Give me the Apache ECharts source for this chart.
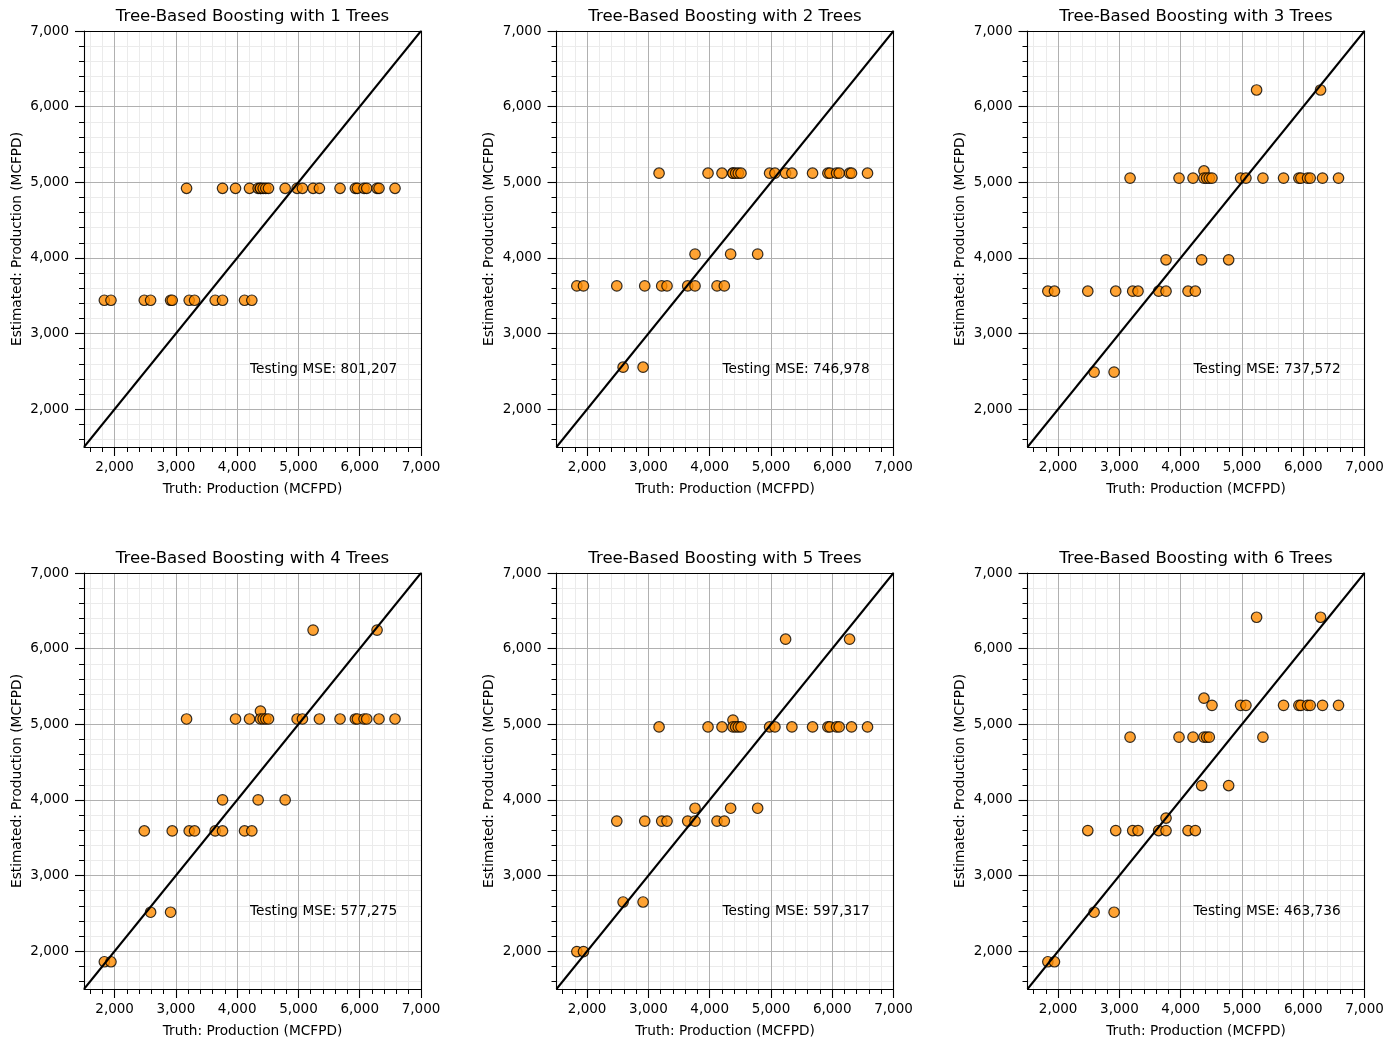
<!DOCTYPE html>
<html>
<head>
<meta charset="utf-8">
<script src="https://cdn.jsdelivr.net/npm/echarts@6/dist/echarts.min.js"></script>
<style>
html,body{margin:0;padding:0;background:#fff;}
#chart{width:1393px;height:1048px;}
</style>
</head>
<body>
<div id="chart"></div>
<script>
// ---------- data ----------
const titles = [
  'Tree-Based Boosting with 1 Trees',
  'Tree-Based Boosting with 2 Trees',
  'Tree-Based Boosting with 3 Trees',
  'Tree-Based Boosting with 4 Trees',
  'Tree-Based Boosting with 5 Trees',
  'Tree-Based Boosting with 6 Trees'
];
const mse = [801207, 746978, 737572, 577275, 597317, 463736];

const truth = [1832, 1940, 2484, 2587, 2913, 2940, 3174, 3217, 3304, 3641, 3761, 3761, 3973, 4120, 4201, 4239, 4342, 4380, 4380, 4424, 4467, 4511, 4783, 4978, 5065, 5239, 5342, 5679, 5929, 5962, 6071, 6114, 6283, 6315, 6576];

const est1 = [3440, 3440, 3440, 3440, 3440, 3440, 4920, 3440, 3440, 3440, 4920, 3440, 4920, 3440, 4920, 3440, 4920, 4920, 4920, 4920, 4920, 4920, 4920, 4920, 4920, 4920, 4920, 4920, 4920, 4920, 4920, 4920, 4920, 4920, 4920];
const est2 = [3630, 3630, 3630, 2555, 2555, 3630, 5120, 3630, 3630, 3630, 4050, 3630, 5120, 3630, 5120, 3630, 4050, 5120, 5120, 5120, 5120, 5120, 4050, 5120, 5120, 5120, 5120, 5120, 5120, 5120, 5120, 5120, 5120, 5120, 5120];
const est3 = [3560, 3560, 3560, 2490, 2490, 3560, 5055, 3560, 3560, 3560, 3975, 3560, 5055, 3560, 5055, 3560, 3975, 5150, 5055, 5055, 5055, 5055, 3975, 5055, 5055, 6220, 5055, 5055, 5055, 5055, 5055, 5055, 6220, 5055, 5055];
const est4 = [1860, 1860, 3590, 2515, 2515, 3590, 5070, 3590, 3590, 3590, 4000, 3590, 5070, 3590, 5070, 3590, 4000, 5175, 5070, 5070, 5070, 5070, 4000, 5070, 5070, 6245, 5070, 5070, 5070, 5070, 5070, 5070, 6245, 5070, 5070];
const est5 = [1995, 1995, 3720, 2650, 2650, 3720, 4965, 3720, 3720, 3720, 3890, 3720, 4965, 3720, 4965, 3720, 3890, 5055, 4965, 4965, 4965, 4965, 3890, 4965, 4965, 6125, 4965, 4965, 4965, 4965, 4965, 4965, 6125, 4965, 4965];
const est6 = [1860, 1860, 3595, 2515, 2515, 3595, 4830, 3595, 3595, 3595, 3760, 3595, 4830, 3595, 4830, 3595, 4190, 5345, 4830, 4830, 4830, 5250, 4190, 5250, 5250, 6415, 4830, 5250, 5250, 5250, 5250, 5250, 6415, 5250, 5250];
const estimates = [est1, est2, est3, est4, est5, est6];

const axisMin = 1500, axisMax = 7000;
const majorTicks = [2000, 3000, 4000, 5000, 6000, 7000];
const minorTicks = [1600, 1800, 2200, 2400, 2600, 2800, 3200, 3400, 3600, 3800, 4200, 4400, 4600, 4800, 5200, 5400, 5600, 5800, 6200, 6400, 6600, 6800];
const diagonal = [[1500, 1500], [7000, 7000]];
const xName = 'Truth: Production (MCFPD)';
const yName = 'Estimated: Production (MCFPD)';

// ---------- layout ----------
const FONT = 'DejaVu Sans';
const gridLefts = [84, 556.5, 1027.5];
const gridTops = [31, 573];
const GW = 337, GH = 416;
const mseAt = [4200, 2530];

const fmt = v => String(Math.round(v)).replace(/\B(?=(\d{3})+(?!\d))/g, ',');

const grids = [], xAxes = [], yAxes = [], series = [], graphics = [];

for (let g = 0; g < 6; g++) {
  const col = g % 3, row = Math.floor(g / 3);
  const left = gridLefts[col], top = gridTops[row];
  grids.push({left: left, top: top, width: GW, height: GH, containLabel: false});

  // major x
  xAxes.push({
    gridIndex: g, type: 'value', min: axisMin, max: axisMax, position: 'bottom', z: 1,
    name: xName, nameLocation: 'middle', nameGap: 35,
    nameTextStyle: {fontFamily: FONT, fontSize: 13.7, color: '#000'},
    axisLine: {show: true, onZero: false, lineStyle: {color: '#000', width: 1.1}},
    axisTick: {show: true, customValues: majorTicks, length: 9, lineStyle: {color: '#000', width: 1.1}},
    axisLabel: {show: true, customValues: majorTicks, formatter: v => fmt(v), fontFamily: FONT, fontSize: 13.5, color: '#000', margin: 13},
    splitLine: {show: true, lineStyle: {color: '#b0b0b0', width: 1}}
  });
  // minor x
  xAxes.push({
    gridIndex: g, type: 'value', min: axisMin, max: axisMax, position: 'bottom', z: 0,
    axisLine: {show: false, onZero: false},
    axisTick: {show: true, customValues: minorTicks, length: 5, lineStyle: {color: '#000', width: 1}},
    axisLabel: {show: false},
    splitLine: {show: true, lineStyle: {color: '#ebebeb', width: 1}}
  });
  // top border
  xAxes.push({
    gridIndex: g, type: 'value', min: axisMin, max: axisMax, position: 'top', z: 2,
    axisLine: {show: true, onZero: false, lineStyle: {color: '#000', width: 1.1}},
    axisTick: {show: false}, axisLabel: {show: false}, splitLine: {show: false}
  });

  // major y
  yAxes.push({
    gridIndex: g, type: 'value', min: axisMin, max: axisMax, position: 'left', z: 1,
    name: yName, nameLocation: 'middle', nameGap: 60, nameRotate: 90,
    nameTextStyle: {fontFamily: FONT, fontSize: 13.7, color: '#000'},
    axisLine: {show: true, onZero: false, lineStyle: {color: '#000', width: 1.1}},
    axisTick: {show: true, customValues: majorTicks, length: 9, lineStyle: {color: '#000', width: 1.1}},
    axisLabel: {show: true, customValues: majorTicks, formatter: v => fmt(v), fontFamily: FONT, fontSize: 13.5, color: '#000', margin: 15},
    splitLine: {show: true, lineStyle: {color: '#b0b0b0', width: 1}}
  });
  // minor y
  yAxes.push({
    gridIndex: g, type: 'value', min: axisMin, max: axisMax, position: 'left', z: 0,
    axisLine: {show: false, onZero: false},
    axisTick: {show: true, customValues: minorTicks, length: 5, lineStyle: {color: '#000', width: 1}},
    axisLabel: {show: false},
    splitLine: {show: true, lineStyle: {color: '#ebebeb', width: 1}}
  });
  // right border
  yAxes.push({
    gridIndex: g, type: 'value', min: axisMin, max: axisMax, position: 'right', z: 2,
    axisLine: {show: true, onZero: false, lineStyle: {color: '#000', width: 1.1}},
    axisTick: {show: false}, axisLabel: {show: false}, splitLine: {show: false}
  });

  const xi = 3 * g, yi = 3 * g;
  const est = estimates[g];
  series.push({
    type: 'scatter', xAxisIndex: xi, yAxisIndex: yi, z: 3,
    data: truth.map((t, i) => [t, est[i]]),
    symbol: 'circle', symbolSize: 10.5,
    itemStyle: {color: '#ff8c00', opacity: 0.8, borderColor: '#000', borderWidth: 1.2}
  });
  series.push({
    type: 'line', xAxisIndex: xi, yAxisIndex: yi, z: 4,
    data: diagonal, symbol: 'none', showSymbol: false,
    lineStyle: {color: '#000', width: 2}
  });
  series.push({
    type: 'scatter', xAxisIndex: xi, yAxisIndex: yi, z: 5,
    data: [mseAt], symbolSize: 1, itemStyle: {color: 'rgba(0,0,0,0)'},
    label: {show: true, position: 'right', distance: 0, formatter: 'Testing MSE: ' + fmt(mse[g]),
      fontFamily: FONT, fontSize: 13.7, color: '#000', opacity: 1}
  });

  graphics.push({
    type: 'text', x: left + GW / 2, y: top - 14, silent: true,
    style: {text: titles[g], fontFamily: FONT, fontSize: 16.6, fill: '#000', textAlign: 'center', textVerticalAlign: 'middle'}
  });
}

const chart = echarts.init(document.getElementById('chart'), null, {renderer: 'canvas'});
chart.setOption({
  backgroundColor: '#fff',
  animation: false,
  grid: grids,
  xAxis: xAxes,
  yAxis: yAxes,
  series: series,
  graphic: graphics
});
</script>
</body>
</html>
